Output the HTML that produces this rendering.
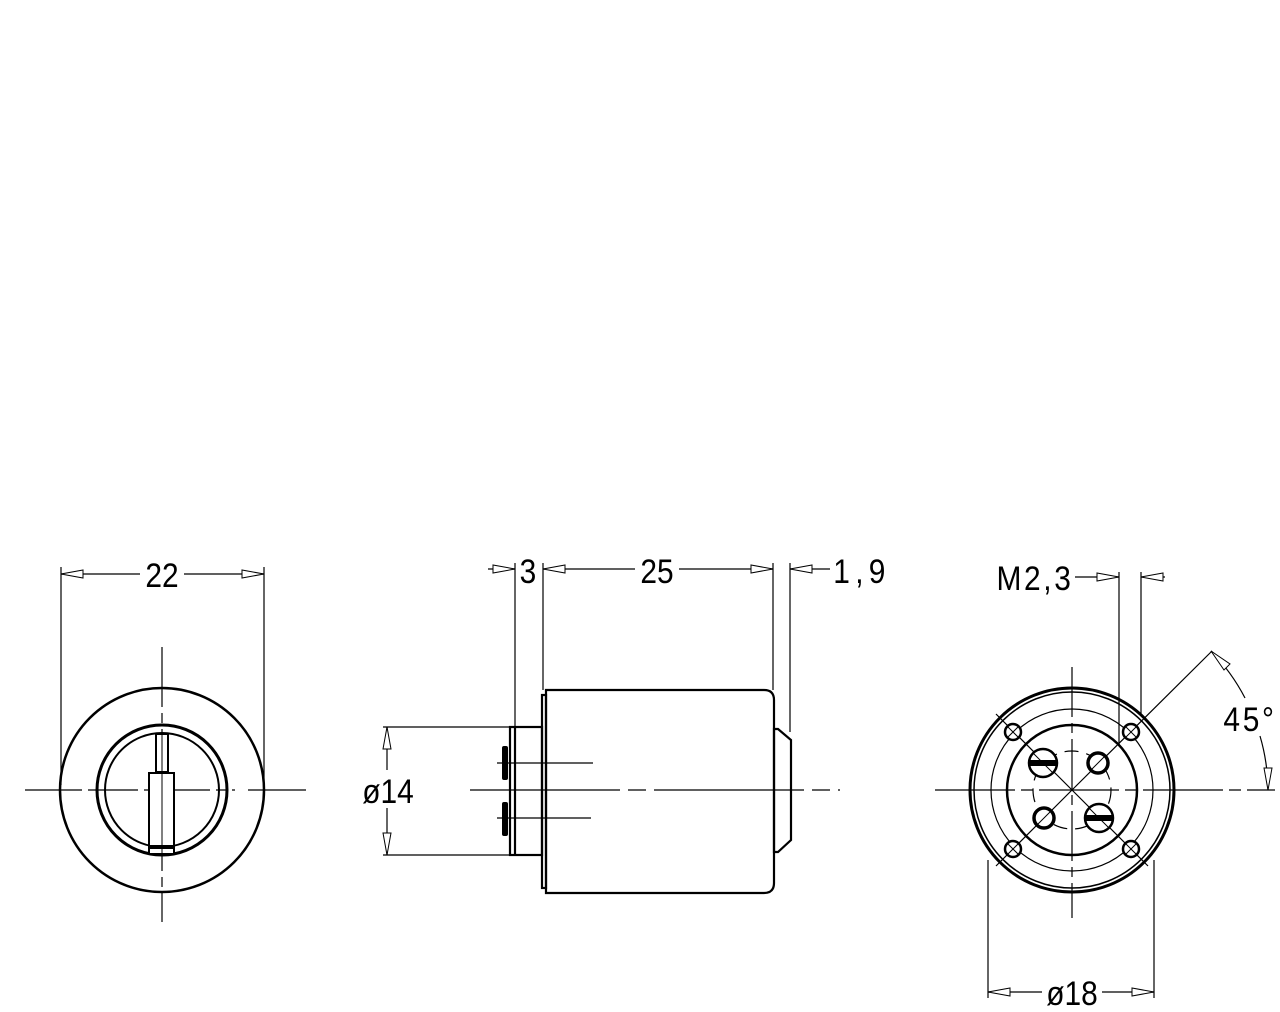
<!DOCTYPE html>
<html><head><meta charset="utf-8"><style>
html,body{margin:0;padding:0;background:#fff;}
svg{display:block;}
text{font-family:"Liberation Sans",sans-serif;font-size:34px;fill:#000;}
</style></head><body>
<svg width="1280" height="1012" viewBox="0 0 1280 1012" xmlns="http://www.w3.org/2000/svg">
<g fill="none" stroke="#000" stroke-width="1.2">
<!-- LEFT VIEW -->
<line x1="61" y1="567" x2="61" y2="785"/>
<line x1="264" y1="567" x2="264" y2="785"/>
<line x1="61" y1="574" x2="140" y2="574"/>
<line x1="184" y1="574" x2="264" y2="574"/>
<line x1="25" y1="790" x2="82" y2="790"/>
<line x1="88" y1="790" x2="235" y2="790" stroke-dasharray="50,6,10,6"/>
<line x1="248" y1="790" x2="306" y2="790"/>
<line x1="162" y1="647" x2="162" y2="922" stroke-dasharray="60,6,10,6"/>
</g>
<g fill="#fff" stroke="#000" stroke-width="1">
<polygon points="61,574 83,570 83,578"/>
<polygon points="264,574 242,570 242,578"/>
</g>
<circle cx="162" cy="790" r="102" fill="none" stroke="#000" stroke-width="2.5"/>
<circle cx="162" cy="790" r="65" fill="none" stroke="#000" stroke-width="3"/>
<circle cx="162" cy="790" r="57" fill="none" stroke="#000" stroke-width="2"/>
<rect x="156" y="734" width="12" height="38" fill="#fff" stroke="#000" stroke-width="2"/>
<rect x="149" y="773" width="25" height="81" fill="#fff" stroke="#000" stroke-width="2"/>
<rect x="149" y="845" width="25" height="4" fill="#000"/>
<line x1="162" y1="734" x2="162" y2="854" stroke="#000" stroke-width="1"/>
<text x="162" y="587" text-anchor="middle" transform="translate(162 0) scale(0.88 1) translate(-162 0)">22</text>

<!-- MIDDLE VIEW -->
<g fill="none" stroke="#000" stroke-width="1.2">
<line x1="515" y1="563" x2="515" y2="727"/>
<line x1="543" y1="563" x2="543" y2="690"/>
<line x1="773" y1="563" x2="773" y2="690"/>
<line x1="790" y1="563" x2="790" y2="732"/>
<line x1="488" y1="569" x2="515" y2="569"/>
<line x1="543" y1="569" x2="635" y2="569"/>
<line x1="679" y1="569" x2="773" y2="569"/>
<line x1="790" y1="569" x2="830" y2="569"/>
<line x1="383" y1="727" x2="509" y2="727"/>
<line x1="383" y1="855" x2="509" y2="855"/>
<line x1="387" y1="727" x2="387" y2="770"/>
<line x1="387" y1="808" x2="387" y2="855"/>
<line x1="497" y1="763" x2="593" y2="763"/>
<line x1="497" y1="818" x2="591" y2="818"/>
<line x1="470" y1="790" x2="840" y2="790" stroke-dasharray="150,8,18,8,150,8,18,8"/>
</g>
<g fill="#fff" stroke="#000" stroke-width="1">
<polygon points="515,569 493,565 493,573"/>
<polygon points="543,569 565,565 565,573"/>
<polygon points="773,569 751,565 751,573"/>
<polygon points="790,569 812,565 812,573"/>
<polygon points="387,727 383,749 391,749"/>
<polygon points="387,855 383,833 391,833"/>
</g>
<g fill="none" stroke="#000" stroke-width="2.2">
<path d="M546,690 H764 Q774,690 774,700 V883 Q774,893 764,893 H546 Z"/>
<rect x="542" y="695" width="4" height="193"/>
<rect x="510" y="727" width="32" height="128"/>
<line x1="515" y1="727" x2="515" y2="855"/>
<polygon points="774,729 778,729 791,740 791,840 778,852 774,852"/>
</g>
<rect x="502" y="746" width="6" height="34" rx="2" fill="#000"/>
<rect x="502" y="802" width="6" height="34" rx="2" fill="#000"/>
<text x="528" y="583" text-anchor="middle" transform="translate(528 0) scale(0.88 1) translate(-528 0)">3</text>
<text x="657" y="583" text-anchor="middle" transform="translate(657 0) scale(0.88 1) translate(-657 0)">25</text>
<text x="862" y="583" text-anchor="middle" letter-spacing="6" transform="translate(862 0) scale(0.88 1) translate(-862 0)">1,9</text>
<text x="388" y="803" text-anchor="middle" transform="translate(388 0) scale(0.88 1) translate(-388 0)">ø14</text>

<!-- RIGHT VIEW -->
<g fill="none" stroke="#000" stroke-width="1.2">
<line x1="988" y1="860" x2="988" y2="998"/>
<line x1="1154" y1="860" x2="1154" y2="998"/>
<line x1="988" y1="992" x2="1042" y2="992"/>
<line x1="1102" y1="992" x2="1154" y2="992"/>
<line x1="1119" y1="572" x2="1119" y2="745"/>
<line x1="1141" y1="572" x2="1141" y2="715"/>
<line x1="1075" y1="577" x2="1119" y2="577"/>
<line x1="1141" y1="577" x2="1165" y2="577"/>
<line x1="1072" y1="790" x2="1212" y2="651"/>
<line x1="935" y1="790" x2="1275" y2="790" stroke-dasharray="80,6,12,6"/>
<line x1="1072" y1="667" x2="1072" y2="918" stroke-dasharray="50,6,10,6"/>
<line x1="1072" y1="790" x2="996" y2="714"/>
<line x1="1072" y1="790" x2="996" y2="866"/>
<line x1="1072" y1="790" x2="1148" y2="866"/>
<path d="M1211,651 A196,196 0 0 1 1245,698"/>
<path d="M1260,736 A196,196 0 0 1 1268,790"/>
<circle cx="1072" cy="790" r="81"/>
<circle cx="1072" cy="790" r="39" stroke-dasharray="14,8"/>
</g>
<g fill="#fff" stroke="#000" stroke-width="1">
<polygon points="988,992 1010,988 1010,996"/>
<polygon points="1154,992 1132,988 1132,996"/>
<polygon points="1119,577 1097,573 1097,581"/>
<polygon points="1141,577 1163,573 1163,581"/>
<polygon points="1211,651 1224,670 1230,664"/>
<polygon points="1268,790 1264,768 1272,768"/>
</g>
<g fill="none" stroke="#000">
<circle cx="1072" cy="790" r="102" stroke-width="3"/>
<circle cx="1072" cy="790" r="98" stroke-width="1.5"/>
<circle cx="1072" cy="790" r="65" stroke-width="2.5"/>
</g>
<g fill="#fff" stroke="#000" stroke-width="2.5">
<circle cx="1013" cy="732" r="8"/><circle cx="1131" cy="732" r="8"/>
<circle cx="1013" cy="849" r="8"/><circle cx="1131" cy="849" r="8"/>
<circle cx="1098" cy="763" r="10" stroke-width="3.5"/>
<circle cx="1044" cy="818" r="10" stroke-width="3.5"/>
<circle cx="1043" cy="763" r="14"/>
<circle cx="1099" cy="818" r="14"/>
</g>
<g stroke="#000" stroke-width="1">
<line x1="1007" y1="726" x2="1019" y2="738"/><line x1="1019" y1="726" x2="1007" y2="738"/>
<line x1="1125" y1="726" x2="1137" y2="738"/><line x1="1137" y1="726" x2="1125" y2="738"/>
<line x1="1007" y1="843" x2="1019" y2="855"/><line x1="1019" y1="843" x2="1007" y2="855"/>
<line x1="1125" y1="843" x2="1137" y2="855"/><line x1="1137" y1="843" x2="1125" y2="855"/>
<line x1="1091" y1="770" x2="1105" y2="756"/>
<line x1="1037" y1="825" x2="1051" y2="811"/>
<line x1="1034" y1="754" x2="1052" y2="772"/>
<line x1="1090" y1="809" x2="1108" y2="827"/>
</g>
<rect x="1029" y="760" width="28" height="6" fill="#000"/>
<rect x="1085" y="815" width="28" height="6" fill="#000"/>
<text x="1072" y="1005" text-anchor="middle" transform="translate(1072 0) scale(0.88 1) translate(-1072 0)">ø18</text>
<text x="1035" y="590" text-anchor="middle" letter-spacing="3" transform="translate(1035 0) scale(0.88 1) translate(-1035 0)">M2,3</text>
<text x="1250" y="731" text-anchor="middle" letter-spacing="3" transform="translate(1250 0) scale(0.88 1) translate(-1250 0)">45°</text>
</svg>
</body></html>
